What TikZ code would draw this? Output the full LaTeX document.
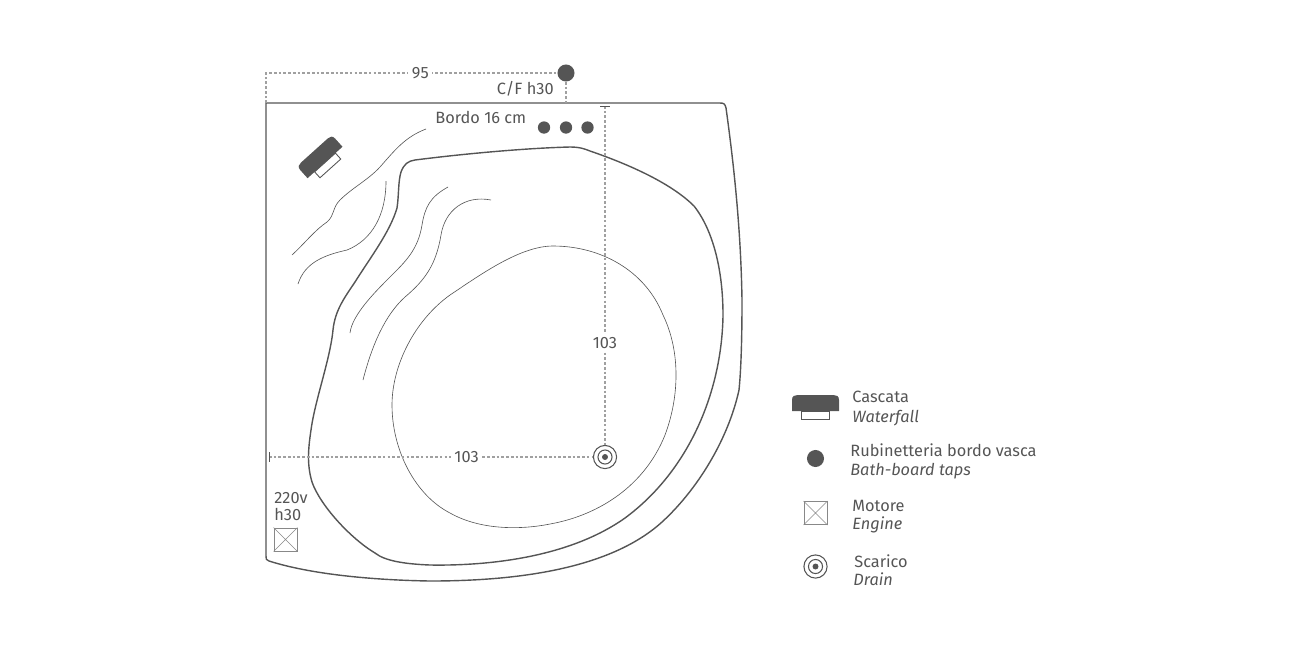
\documentclass[tikz,border=0pt]{standalone}
\usepackage{fontspec}
\setmainfont{Fira Sans}
\definecolor{inkgrey}{HTML}{555555}
\definecolor{dashgrey}{HTML}{A0A0A0}
\tikzset{
  outline/.style={draw=inkgrey,line width=0.8pt,line join=round},
  thinline/.style={draw=inkgrey,line width=0.35pt},
  dimline/.style={draw=dashgrey,line width=0.6pt,dash pattern=on 1.5pt off 1.2pt},
  label/.style={text=inkgrey,font=\fontsize{9.3}{9.3}\selectfont,inner sep=0pt},
  dimlabel/.style={label,fill=white,inner sep=2pt},
  tap/.style={circle,fill=inkgrey,inner sep=0pt,minimum size=#1},
  ring/.style={circle,draw=inkgrey,line width=0.6pt,inner sep=0pt,minimum size=#1},
  motorbox/.style={draw=inkgrey!70,line width=0.45pt,inner sep=0pt,minimum size=13.2pt},
  cascata/.pic={
    \fill[inkgrey] (-23.5,6) -- (-23.5,-5) .. controls (-23.5,-9) and (-21,-10) .. (-18,-10)
      -- (18,-10) .. controls (21,-10) and (23.5,-9) .. (23.5,-5) -- (23.5,6) -- cycle;%
    \draw[draw=inkgrey,line width=0.5pt] (-14,6) rectangle (14,14);%
  }
}
\newcommand{\motore}[2]{%
  \node[motorbox] (#1) at (#2) {};%
  \draw[draw=inkgrey!70,line width=0.3pt] (#1.north west) -- (#1.south east) (#1.north east) -- (#1.south west);%
}
\newcommand{\scarico}[2]{%
  \node[ring=13.2pt] (#1) at (#2) {};%
  \node[ring=8pt] (#1b) at (#2) {};%
  \node[tap=3.4pt] (#1c) at (#2) {};%
}
\begin{document}
\begin{tikzpicture}[x=0.02cm,y=-0.02cm]
  \useasboundingbox (0,0) rectangle (1300,650);%

  % Coordinates
  \coordinate (cornerTL) at (266,103);%
  \coordinate (dimTL) at (266,73);%
  \coordinate (rimTop) at (566,103);%
  \coordinate (dimTop) at (605,106);%
  \coordinate (dimLeft) at (269,457);%

  % Tub
  \draw[outline] (cornerTL) -- (720,103) .. controls (724,103) and (725,104) .. (726,108)
    .. controls (736,180) and (741,240) .. (742,300)
    .. controls (742,340) and (741,370) .. (739,390)
    .. controls (728,440) and (697,490) .. (662,522)
    .. controls (608,571) and (510,581) .. (430,581)
    .. controls (370,580) and (310,574) .. (269,561)
    .. controls (266,560) and (266,559) .. (266,556) -- cycle;%
  \draw[outline] (415,160) .. controls (470,153) and (530,148) .. (570,147)
    .. controls (580,147) and (585,149) .. (590,151)
    .. controls (625,163) and (670,182) .. (694,206)
    .. controls (713,230) and (723,270) .. (723,315)
    .. controls (722,390) and (690,470) .. (625,518)
    .. controls (570,557) and (490,566) .. (430,565)
    .. controls (405,564) and (385,561) .. (375,553)
    .. controls (350,538) and (320,505) .. (312,482)
    .. controls (307,465) and (308,450) .. (311,430)
    .. controls (315,400) and (330,360) .. (333,330)
    .. controls (335,310) and (345,297) .. (355,282)
    .. controls (370,258) and (390,232) .. (397,208)
    .. controls (399,195) and (398,182) .. (401,172)
    .. controls (404,164) and (408,161) .. (415,160);%
  \draw[thinline] (553,246) .. controls (600,246) and (645,270) .. (663,315)
    .. controls (680,350) and (680,395) .. (665,435)
    .. controls (645,485) and (600,515) .. (550,524)
    .. controls (520,530) and (480,530) .. (450,513)
    .. controls (415,495) and (392,450) .. (392,405)
    .. controls (392,365) and (415,320) .. (450,295)
    .. controls (480,275) and (520,246) .. (553,246);%

  % Waves
  \draw[thinline] (292,255) .. controls (305,243) and (315,230) .. (327,222)
    .. controls (335,215) and (332,208) .. (340,200)
    .. controls (352,188) and (368,180) .. (380,167)
    .. controls (395,150) and (405,137) .. (426,129);%
  \draw[thinline] (386,181) .. controls (386,215) and (372,240) .. (347,250)
    .. controls (325,255) and (305,262) .. (298,284);%
  \draw[thinline] (448,187) .. controls (430,197) and (425,207) .. (422,225)
    .. controls (418,250) and (405,262) .. (390,277)
    .. controls (375,292) and (352,315) .. (350,333);%
  \draw[thinline] (491,200) .. controls (465,195) and (445,210) .. (441,235)
    .. controls (436,265) and (425,280) .. (405,297)
    .. controls (385,315) and (372,345) .. (363,380);%

  % Symbols on the tub
  \pic[rotate=42] at (321,158) {cascata};%
  \node[tap=9.7pt] (tapCF) at (566,73) {};%
  \node[tap=7pt] (tapA) at (544,127.5) {};%
  \node[tap=7pt] (tapB) at (566,127.5) {};%
  \node[tap=7pt] (tapC) at (587.5,127.5) {};%
  \scarico{drain}{605,457}%
  \motore{motor}{285.5,539.5}%

  % Dimensions
  \draw[dimline] (cornerTL) -- (dimTL) -- node[dimlabel,pos=0.53] (dimA) {95} (tapCF);%
  \draw[dimline] (tapCF) -- (rimTop);%
  \draw[dimline] (dimTop) -- node[dimlabel,pos=0.7] (dimB) {103} (drain);%
  \draw[dimline] (dimLeft) -- node[dimlabel,pos=0.61] (dimC) {103} (drain);%
  \draw[draw=inkgrey,line width=0.5pt] (600,106) -- (610,106) (269,452) -- (269,462);%

  % Labels
  \node[label,anchor=east] (lblCF) at (554,89) {C/F h30};%
  \node[label,anchor=west] (lblBordo) at (435,117) {Bordo 16 cm};%
  \node[label,anchor=west] (lblV) at (274,498) {220v};%
  \node[label,anchor=west] (lblH) at (274,514.5) {h30};%

  % Legend
  \pic at (815.5,405) {cascata};%
  \node[tap=9.7pt] (legTap) at (815.5,458.5) {};%
  \motore{legMotor}{815.5,513}%
  \scarico{legDrain}{815.5,566.5}%
  \node[label,anchor=west] (legA) at (852,396.5) {Cascata};%
  \node[label,anchor=west] (legAen) at (852,418) {\itshape Waterfall};%
  \node[label,anchor=west] (legB) at (850,450) {Rubinetteria bordo vasca};%
  \node[label,anchor=west] (legBen) at (850,471) {\itshape Bath-board taps};%
  \node[label,anchor=west] (legC) at (852,505.5) {Motore};%
  \node[label,anchor=west] (legCen) at (852,525) {\itshape Engine};%
  \node[label,anchor=west] (legD) at (854,561) {Scarico};%
  \node[label,anchor=west] (legDen) at (853,579.5) {\itshape Drain};%
\end{tikzpicture}
\end{document}
